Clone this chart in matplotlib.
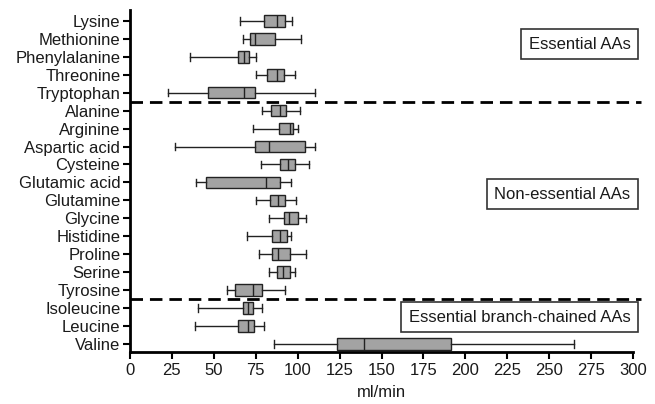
import matplotlib
matplotlib.use("Agg")
import matplotlib.pyplot as plt

plt.rcParams['font.family'] = ['Liberation Sans', 'DejaVu Sans']

amino = ['Lysine', 'Methionine', 'Phenylalanine', 'Threonine', 'Tryptophan',
         'Alanine', 'Arginine', 'Aspartic acid', 'Cysteine', 'Glutamic acid',
         'Glutamine', 'Glycine', 'Histidine', 'Proline', 'Serine', 'Tyrosine',
         'Isoleucine', 'Leucine', 'Valine']

# whisker low, Q1, median, Q3, whisker high (ml/min)
lo  = [65.6, 67.6, 36.0, 75.1, 22.5, 78.7, 73.5, 27.1, 78.1, 39.4,
       75.1, 83.0, 69.5, 76.7, 83.0, 57.6, 40.8, 39.0, 86.0]
q1  = [80.2, 71.3, 64.6, 81.8, 46.3, 83.8, 88.6, 74.7, 89.6, 45.4,
       83.6, 92.0, 84.6, 84.6, 87.8, 62.4, 67.2, 64.6, 123.5]
med = [87.4, 74.5, 68.2, 87.4, 68.2, 89.6, 95.5, 82.6, 94.5, 81.4,
       88.0, 94.9, 89.6, 88.4, 91.0, 73.5, 70.1, 70.1, 139.6]
q3  = [92.4, 86.6, 71.1, 91.6, 74.5, 93.0, 97.5, 104.3, 98.3, 89.4,
       92.4, 100.3, 93.9, 95.3, 95.2, 78.9, 73.5, 73.9, 191.7]
hi  = [96.9, 101.9, 75.3, 98.3, 110.4, 101.1, 100.1, 110.4, 106.8, 96.1,
       98.9, 105.2, 95.9, 104.9, 98.5, 92.4, 78.7, 80.1, 265.0]

groups = ['Essential AAs', 'Non-essential AAs', 'Essential branch-chained AAs']
group_rows = [1.3, 9.65, 16.5]
dividers = [4.5, 15.5]

fig = plt.figure(figsize=(6.55, 4.04), dpi=100)
ax = fig.add_axes([0.1985, 0.1287, 0.7679, 0.8463])

stats = []
for i in range(len(amino)):
    stats.append(dict(whislo=lo[i], q1=q1[i], med=med[i], q3=q3[i],
                      whishi=hi[i], fliers=[], label=amino[i]))

pos = list(range(len(amino)))
ax.bxp(stats, positions=pos, orientation='horizontal', widths=0.65,
       patch_artist=True, showfliers=False, capwidths=0.42,
       boxprops=dict(facecolor='#a3a3a3', edgecolor='#222222', linewidth=1.0),
       medianprops=dict(color='#222222', linewidth=1.0),
       whiskerprops=dict(color='#222222', linewidth=1.0),
       capprops=dict(color='#222222', linewidth=1.0))

for d in dividers:
    ax.axhline(d, xmin=0, xmax=1.015, color='black', lw=2.0,
               ls=(0, (4.5, 2.5)), clip_on=False)

for g, r in zip(groups, group_rows):
    ax.text(0.995, r, g, transform=ax.get_yaxis_transform(), ha='right',
            va='center', fontsize=12, color='#1a1a1a',
            bbox=dict(boxstyle='square,pad=0.45', fc='white', ec='#333333', lw=1.2))

ax.set_ylim(18.45, -0.6)
ax.set_xlim(0, 300)
ax.set_xticks(range(0, 301, 25))
ax.set_yticks(pos)
ax.set_yticklabels(amino, fontsize=12, color='#1a1a1a')
ax.tick_params(axis='x', labelsize=12, length=5, width=1.5, direction='out',
               labelcolor='#1a1a1a', pad=3)
ax.tick_params(axis='y', length=5, width=1.5, direction='out', pad=2)
ax.set_xlabel('ml/min', fontsize=12, labelpad=5, color='#1a1a1a')

for s in ['top', 'right']:
    ax.spines[s].set_visible(False)
for s in ['left', 'bottom']:
    ax.spines[s].set_linewidth(2.0)

fig.savefig('out.png', dpi=100)
